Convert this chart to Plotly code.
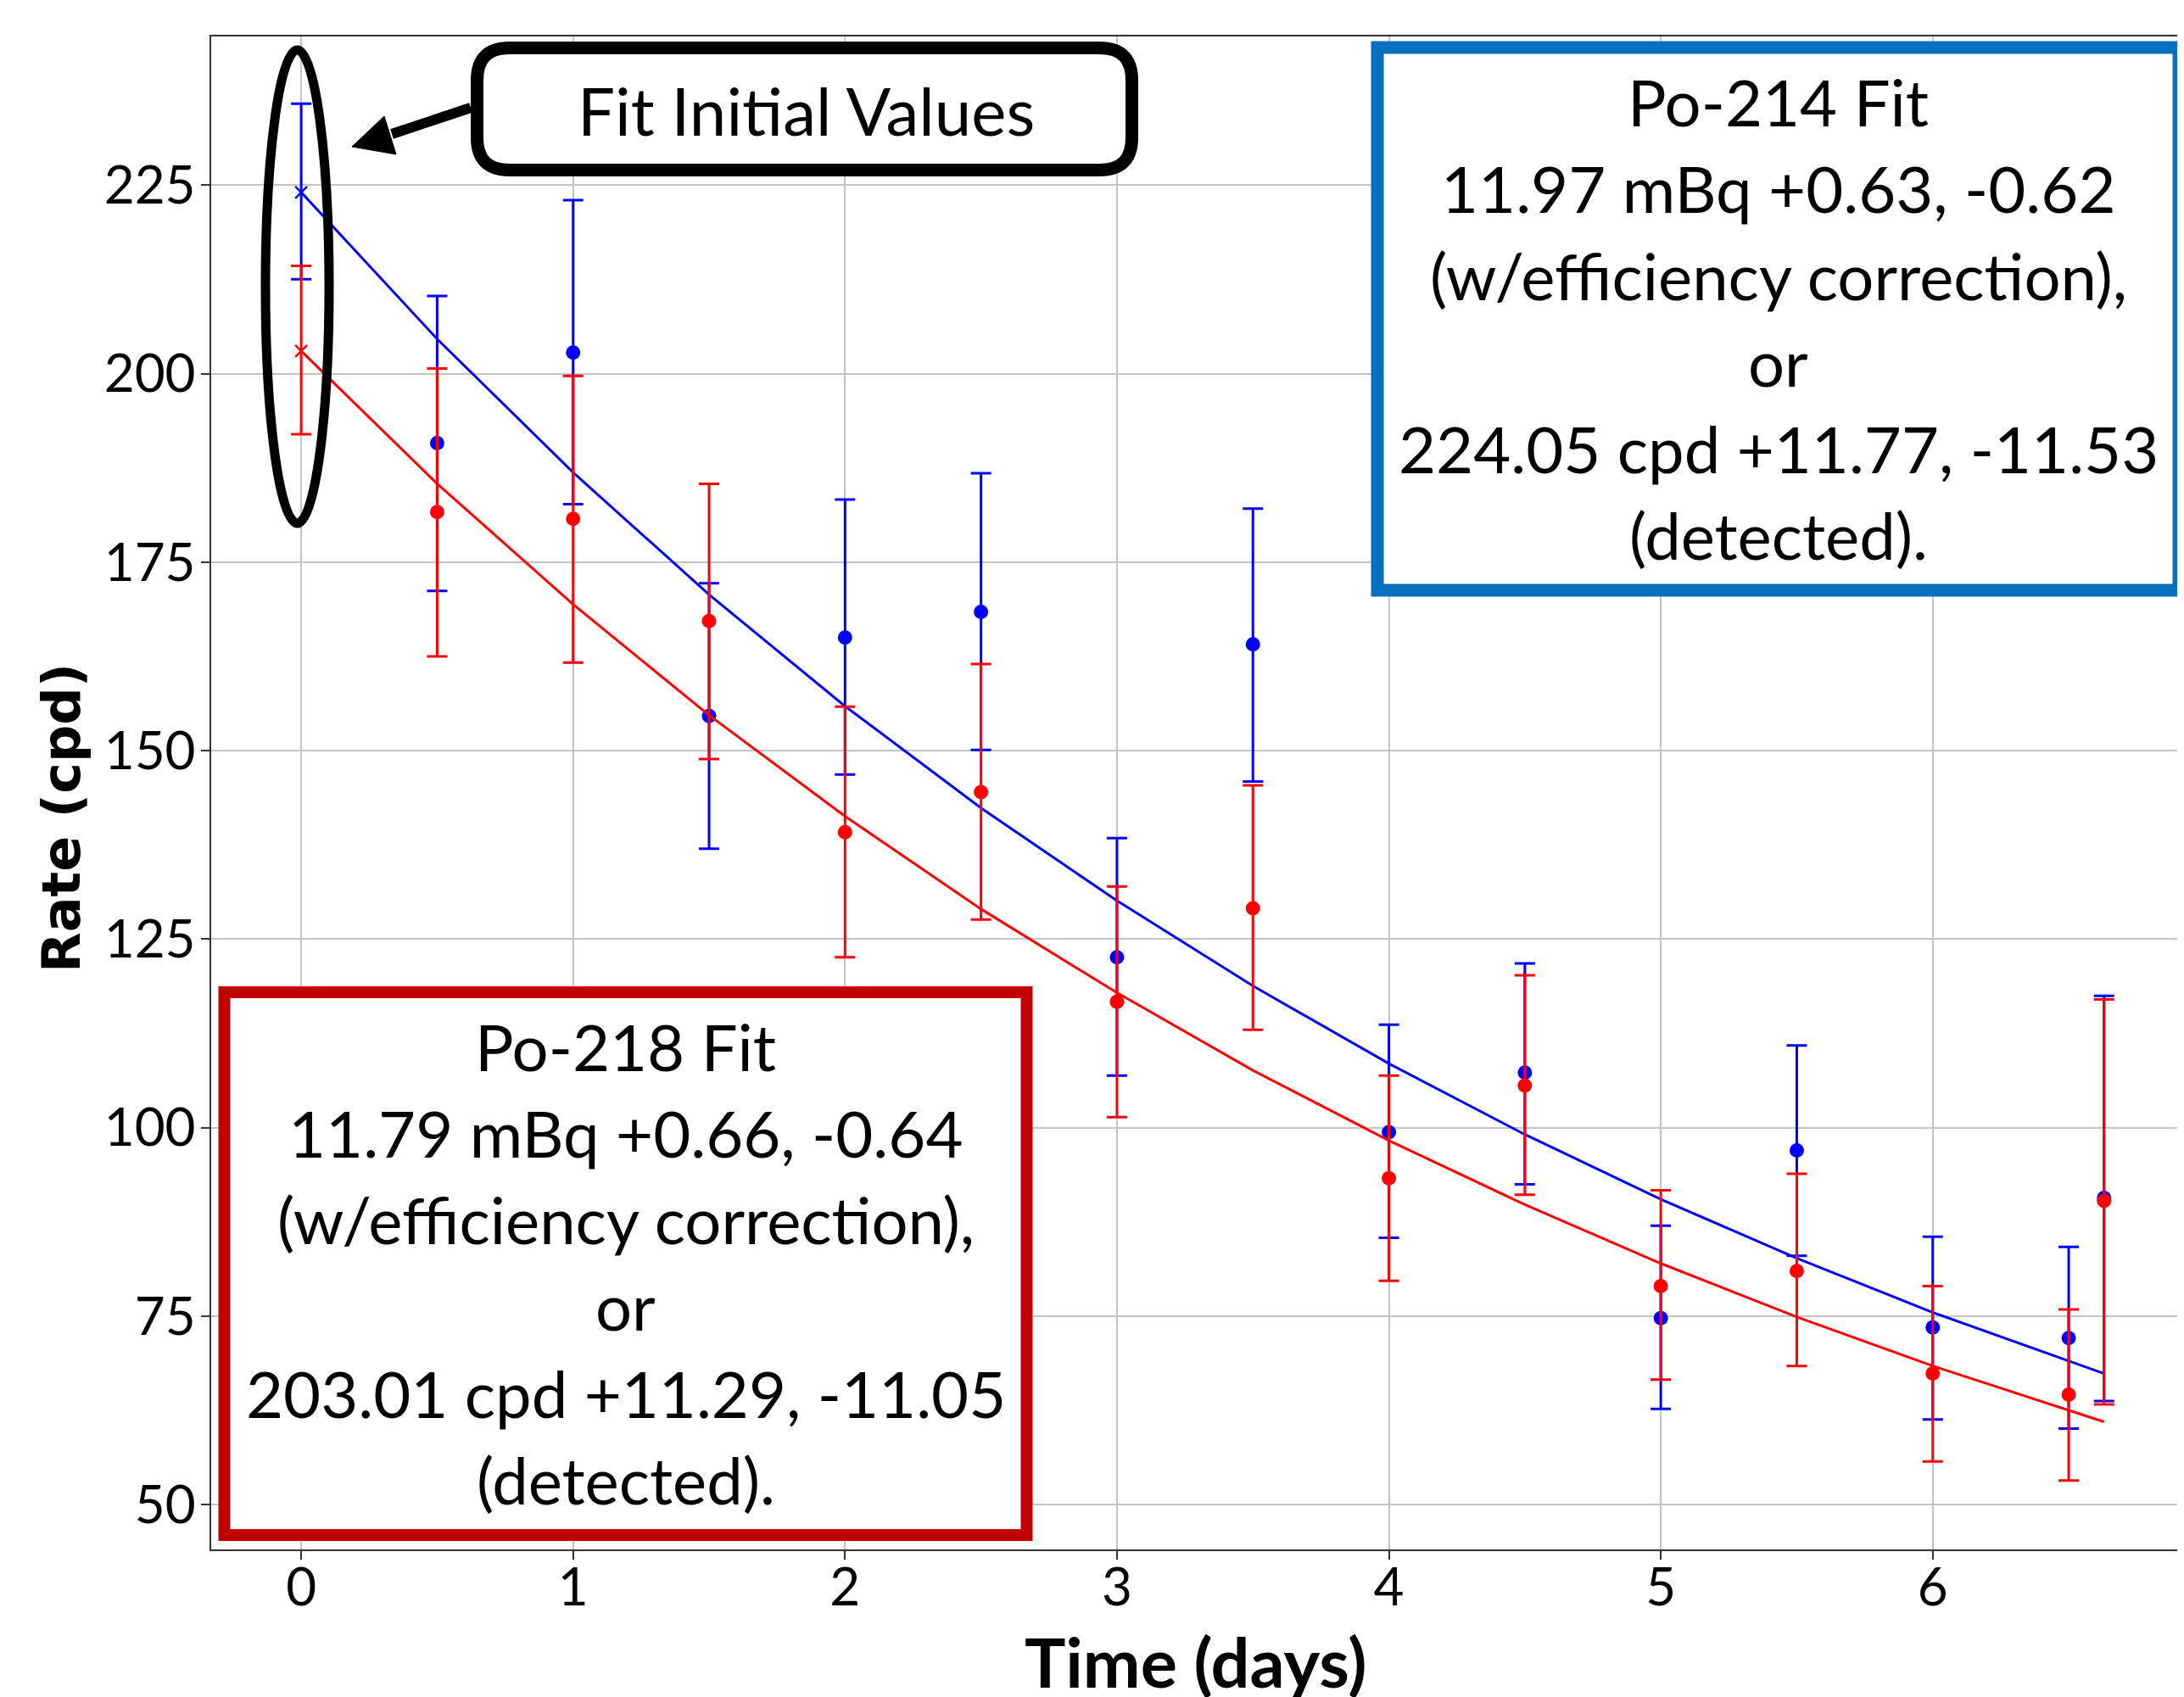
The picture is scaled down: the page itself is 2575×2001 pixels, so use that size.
import plotly.graph_objects as go

# ---------------- data ----------------
time_days = [0.5, 1.0, 1.5, 2.0, 2.5, 3.0, 3.5, 4.0, 4.5, 5.0, 5.5, 6.0, 6.5, 6.63]

po214_rate = [190.8, 202.8, 154.6, 165.0, 168.4, 122.6, 164.1, 99.4, 107.3, 74.75, 97.0, 73.5, 72.1, 90.7]
po214_err_plus = [19.5, 20.2, 17.6, 18.3, 18.4, 15.8, 18.0, 14.25, 14.5, 12.25, 13.9, 12.05, 12.1, 26.8]
po214_err_minus = [19.6, 20.1, 17.6, 18.15, 18.3, 15.7, 18.2, 14.0, 14.8, 12.05, 14.0, 12.2, 12.0, 26.95]

po218_rate = [181.65, 180.75, 167.2, 139.2, 144.5, 116.7, 129.1, 93.3, 105.6, 79.0, 81.0, 67.4, 64.6, 90.3]
po218_err_plus = [19.05, 18.95, 18.2, 16.65, 17.0, 15.3, 16.3, 13.6, 14.6, 12.7, 12.9, 11.6, 11.3, 26.7]
po218_err_minus = [19.15, 19.05, 18.3, 16.6, 16.9, 15.3, 16.1, 13.6, 14.5, 12.4, 12.6, 11.65, 11.4, 27.0]

# fit initial values (t = 0)
init_time = [0.0]
po214_init = [224.05]
po214_init_plus = [11.77]
po214_init_minus = [11.53]
po218_init = [203.01]
po218_init_plus = [11.29]
po218_init_minus = [11.05]

# fitted curves as drawn (piecewise through the sample times)
fit_time = [0.0, 0.5, 1.0, 1.5, 2.0, 2.5, 3.0, 3.5, 4.0, 4.5, 5.0, 5.5, 6.0, 6.5, 6.63]
po214_fit = [224.05, 204.6, 186.9, 170.7, 155.9, 142.4, 130.1, 118.8, 108.5, 99.1, 90.5, 82.7, 75.5, 69.0, 67.4]
po218_fit = [203.0, 185.4, 169.4, 154.7, 141.3, 129.0, 117.9, 107.6, 98.3, 89.8, 82.0, 74.9, 68.4, 62.5, 61.0]

x_ticks = [0, 1, 2, 3, 4, 5, 6]
y_ticks = [50, 75, 100, 125, 150, 175, 200, 225]

po214_box_lines = ["Po-214 Fit", "11.97 mBq +0.63, -0.62", "(w/efficiency correction),",
                   "or", "224.05 cpd +11.77, -11.53", "(detected)."]
po218_box_lines = ["Po-218 Fit", "11.79 mBq +0.66, -0.64", "(w/efficiency correction),",
                   "or", "203.01 cpd +11.29, -11.05", "(detected)."]

# ---------------- layout geometry (pixels, page coordinates) ----------------
OFF = 8  # default body margin of the html page
W, H = 2575 - OFF, 2001 - OFF
L, R, T, B = 249 - OFF, 2575 - OFF, 43 - OFF, 1827 - OFF


def fx(px):
    return (px - OFF - L) / (R - L)


def fy(py):
    return (B - (py - OFF)) / (B - T)


def rounded_rect(x0, y0, x1, y1, r):
    pts = [
        f"M{fx(x0 + r)},{fy(y0)}",
        f"L{fx(x1 - r)},{fy(y0)}",
        f"Q{fx(x1)},{fy(y0)} {fx(x1)},{fy(y0 + r)}",
        f"L{fx(x1)},{fy(y1 - r)}",
        f"Q{fx(x1)},{fy(y1)} {fx(x1 - r)},{fy(y1)}",
        f"L{fx(x0 + r)},{fy(y1)}",
        f"Q{fx(x0)},{fy(y1)} {fx(x0)},{fy(y1 - r)}",
        f"L{fx(x0)},{fy(y0 + r)}",
        f"Q{fx(x0)},{fy(y0)} {fx(x0 + r)},{fy(y0)}",
        "Z",
    ]
    return " ".join(pts)


BLUE = "#0000FF"
RED = "#FF0000"
TXT_FONT = "Lato, 'Open Sans', sans-serif"

fig = go.Figure()

# blue (Po-214)
fig.add_trace(go.Scatter(x=fit_time, y=po214_fit, mode="lines",
                         line=dict(color=BLUE, width=3), showlegend=False))
fig.add_trace(go.Scatter(
    x=time_days, y=po214_rate, mode="markers",
    marker=dict(color=BLUE, size=17, symbol="circle"),
    error_y=dict(type="data", symmetric=False, array=po214_err_plus,
                 arrayminus=po214_err_minus, color=BLUE, thickness=3, width=12),
    showlegend=False))
fig.add_trace(go.Scatter(
    x=init_time, y=po214_init, mode="markers",
    marker=dict(color=BLUE, size=14, symbol="x-thin", line=dict(color=BLUE, width=2.5)),
    error_y=dict(type="data", symmetric=False, array=po214_init_plus,
                 arrayminus=po214_init_minus, color=BLUE, thickness=3, width=12),
    showlegend=False))

# red (Po-218)
fig.add_trace(go.Scatter(x=fit_time, y=po218_fit, mode="lines",
                         line=dict(color=RED, width=3), showlegend=False))
fig.add_trace(go.Scatter(
    x=time_days, y=po218_rate, mode="markers",
    marker=dict(color=RED, size=17, symbol="circle"),
    error_y=dict(type="data", symmetric=False, array=po218_err_plus,
                 arrayminus=po218_err_minus, color=RED, thickness=3, width=12),
    showlegend=False))
fig.add_trace(go.Scatter(
    x=init_time, y=po218_init, mode="markers",
    marker=dict(color=RED, size=14, symbol="x-thin", line=dict(color=RED, width=2.5)),
    error_y=dict(type="data", symmetric=False, array=po218_init_plus,
                 arrayminus=po218_init_minus, color=RED, thickness=3, width=12),
    showlegend=False))

shapes = []
annotations = []

# "Fit Initial Values" rounded box
shapes.append(dict(type="path", xref="paper", yref="paper",
                   path=rounded_rect(562.5, 56.5, 1334.5, 200.5, 38),
                   line=dict(color="black", width=15), fillcolor="white", layer="above"))
annotations.append(dict(xref="paper", yref="paper", x=fx(950), y=fy(130),
                        text="Fit Initial Values", showarrow=False,
                        xanchor="center", yanchor="middle",
                        font=dict(family=TXT_FONT, size=78, color="black")))

# arrow
shapes.append(dict(type="line", xref="paper", yref="paper",
                   x0=fx(555), y0=fy(127), x1=fx(462), y1=fy(158),
                   line=dict(color="black", width=12), layer="above"))
tip = (415, 173)
b1 = (467, 182)
b2 = (453, 137)
shapes.append(dict(type="path", xref="paper", yref="paper",
                   path=f"M{fx(tip[0])},{fy(tip[1])} L{fx(b1[0])},{fy(b1[1])} L{fx(b2[0])},{fy(b2[1])} Z",
                   line=dict(color="black", width=1), fillcolor="black", layer="above"))

# ellipse around initial values
shapes.append(dict(type="circle", xref="paper", yref="paper",
                   x0=fx(313), x1=fx(388), y0=fy(617), y1=fy(59),
                   line=dict(color="black", width=11), layer="above"))

# Po-214 box
shapes.append(dict(type="rect", xref="paper", yref="paper",
                   x0=fx(1624), x1=fx(2569), y0=fy(696), y1=fy(56),
                   line=dict(color="#0070C0", width=15), fillcolor="white", layer="above"))
blue_centers = [119.5, 221.75, 324, 426.25, 528.5, 630.75]
for txt, cy in zip(po214_box_lines, blue_centers):
    annotations.append(dict(xref="paper", yref="paper", x=fx(2096.5), y=fy(cy),
                            text=txt, showarrow=False, xanchor="center", yanchor="middle",
                            font=dict(family=TXT_FONT, size=76, color="black")))

# Po-218 box
shapes.append(dict(type="rect", xref="paper", yref="paper",
                   x0=fx(264.5), x1=fx(1210.5), y0=fy(1810), y1=fy(1170),
                   line=dict(color="#C00000", width=14), fillcolor="white", layer="above"))
red_centers = [1233, 1335.25, 1437.5, 1539.75, 1642, 1744.25]
for txt, cy in zip(po218_box_lines, red_centers):
    annotations.append(dict(xref="paper", yref="paper", x=fx(737.5), y=fy(cy),
                            text=txt, showarrow=False, xanchor="center", yanchor="middle",
                            font=dict(family=TXT_FONT, size=76, color="black")))

# axis titles
annotations.append(dict(xref="paper", yref="paper", x=fx(72), y=fy(964),
                        text="<b>Rate (cpd)</b>", showarrow=False, textangle=-90,
                        xanchor="center", yanchor="middle",
                        font=dict(family="DejaVu Sans", size=62, color="black")))
annotations.append(dict(xref="paper", yref="paper", x=fx(1409), y=fy(1908),
                        text="<b>Time (days)</b>", showarrow=False,
                        xanchor="center", yanchor="top",
                        font=dict(family=TXT_FONT, size=81, color="black")))

fig.update_layout(
    width=W, height=H,
    margin=dict(l=L, r=W - R, t=T, b=H - B, pad=0, autoexpand=False),
    paper_bgcolor="white", plot_bgcolor="white",
    shapes=shapes, annotations=annotations,
    xaxis=dict(range=[-0.331, 6.924], tickvals=x_ticks, ticktext=[str(v) for v in x_ticks],
               showgrid=True, gridcolor="#c4c4c4", gridwidth=2,
               showline=True, linecolor="#333333", linewidth=2, mirror=True,
               ticks="outside", ticklen=10, tickwidth=2, tickcolor="#333333",
               ticklabelstandoff=-20,
               tickfont=dict(family=TXT_FONT, size=62, color="black"),
               zeroline=False),
    yaxis=dict(range=[44.07, 244.72], tickvals=y_ticks, ticktext=[str(v) for v in y_ticks],
               showgrid=True, gridcolor="#c4c4c4", gridwidth=2,
               showline=True, linecolor="#333333", linewidth=2, mirror=False,
               ticks="outside", ticklen=10, tickwidth=2, tickcolor="#333333",
               ticklabelstandoff=-6,
               tickfont=dict(family=TXT_FONT, size=62, color="black"),
               zeroline=False),
)

fig.write_html("out.html")
